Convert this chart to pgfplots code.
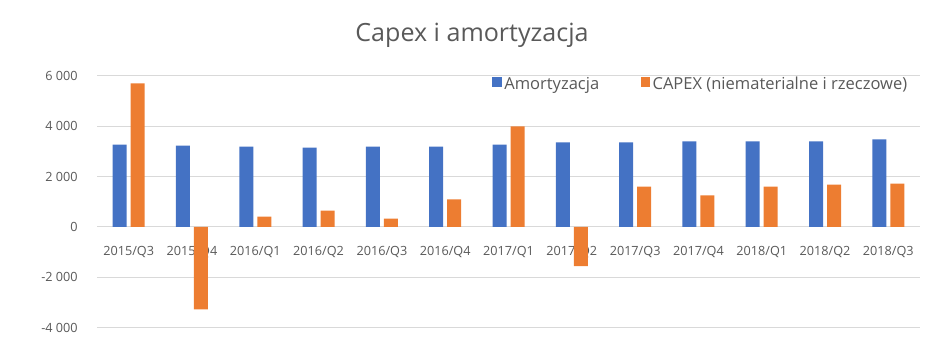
\documentclass[border=0pt]{standalone}
\usepackage{pgfplots}
\pgfplotsset{compat=1.18}
\usepackage{fontspec}
\setmainfont{Open Sans}
\definecolor{cblue}{HTML}{4472C4}
\definecolor{corange}{HTML}{ED7D31}
\definecolor{cgrid}{HTML}{D9D9D9}
\definecolor{ctext}{HTML}{595959}
\pgfplotsset{sqlegend/.style={legend image code/.code={\fill[##1] (0pt,-2pt) rectangle (7pt,5pt);}}}
\begin{document}
\begin{tikzpicture}
\path[use as bounding box] (0,0) rectangle (708pt,266.25pt);
\node[text=ctext, font=\fontsize{18.8}{22}\selectfont] at (354pt,239.6pt) {Capex i amortyzacja};
\begin{axis}[
  at={(72.75pt,20.475pt)}, anchor=south west,
  scale only axis, width=617.25pt, height=189pt,
  xmin=-0.5, xmax=12.5, ymin=-4000, ymax=6000,
  ybar=3pt, bar width=10.5pt,
  axis line style={draw=none},
  major tick style={draw=none},
  ytick={-4000,-2000,0,2000,4000,6000},
  yticklabels={-4 000,-2 000,0,2 000,4 000,6 000},
  ymajorgrids, grid style={cgrid, line width=0.75pt},
  xtick={0,...,12},
  xticklabels={2015/Q3,2015/Q4,2016/Q1,2016/Q2,2016/Q3,2016/Q4,2017/Q1,2017/Q2,2017/Q3,2017/Q4,2018/Q1,2018/Q2,2018/Q3},
  xticklabel style={anchor=center, yshift=60.75pt, font=\fontsize{9.5}{11}\selectfont, text=ctext},
  yticklabel style={xshift=-11pt, font=\fontsize{9.5}{11}\selectfont, text=ctext},
  legend columns=2,
  legend style={draw=none, fill=none, at={(0.734,0.967)}, anchor=center,
    font=\fontsize{12.4}{14}\selectfont, text=ctext,
    /tikz/every even column/.append style={column sep=29pt}},
]
\addplot[draw=none, fill=cblue, sqlegend]
  coordinates {(0,3270) (1,3230) (2,3190) (3,3150) (4,3190) (5,3190) (6,3270) (7,3350) (8,3350) (9,3390) (10,3390) (11,3390) (12,3470)};
\addlegendentry{Amortyzacja}
\addplot[draw=none, fill=corange, sqlegend]
  coordinates {(0,5700) (1,-3270) (2,410) (3,650) (4,330) (5,1090) (6,3990) (7,-1560) (8,1600) (9,1250) (10,1600) (11,1680) (12,1720)};
\addlegendentry{CAPEX (niematerialne i rzeczowe)}
\end{axis}
\end{tikzpicture}
\end{document}
